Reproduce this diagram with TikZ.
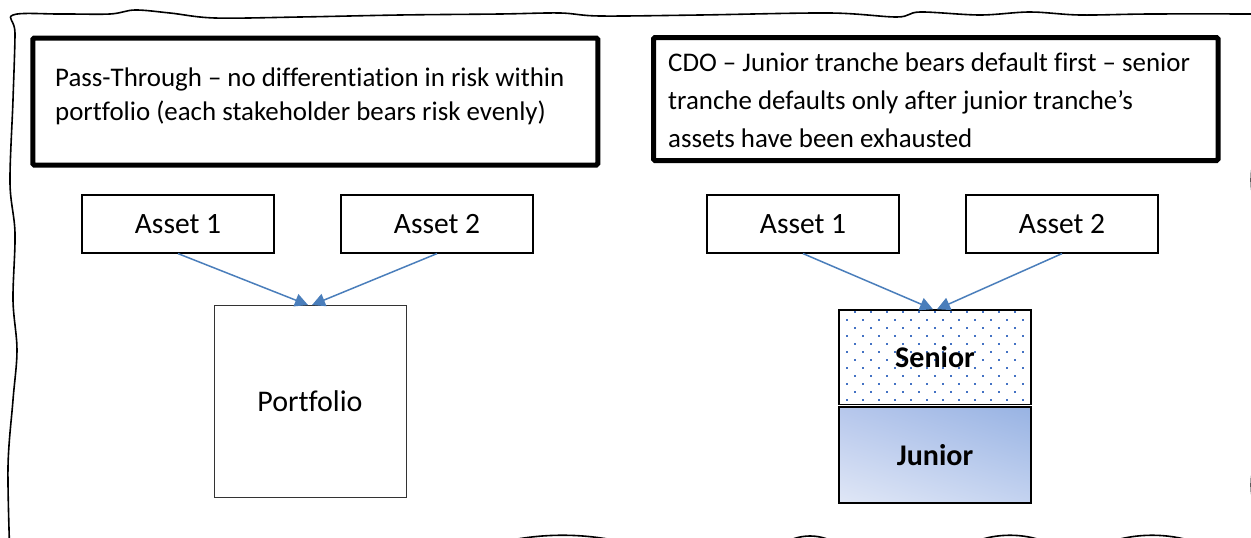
\documentclass[tikz,border=0pt]{standalone}
\usepackage{fontspec}
\setmainfont{Carlito}[Ligatures=NoCommon]
\usetikzlibrary{arrows.meta,shadings}
\definecolor{arrowblue}{RGB}{74,126,187}
\definecolor{dotblue}{RGB}{68,114,196}
\definecolor{jll}{RGB}{224,231,246}
\definecolor{jur}{RGB}{152,179,227}
\definecolor{jul}{RGB}{182,199,236}
\definecolor{jlr}{RGB}{196,211,240}
\begin{document}
\begin{tikzpicture}[x=1pt,y=-1pt,
  titlebox/.style={draw=black, line width=5pt, rounded corners=1.5pt, inner sep=0pt},
  titletext/.style={anchor=base west, inner sep=0pt, font=\fontsize{26.9}{30}\selectfont},
  assetbox/.style={draw=black, line width=1.2pt, minimum width=192pt, minimum height=58pt, inner sep=0pt, font=\fontsize{29.5}{32}\selectfont},
  portbox/.style={draw=black!80, line width=1pt, minimum width=192pt, minimum height=192pt, inner sep=0pt, font=\fontsize{30}{32}\selectfont},
  tranche/.style={draw=black, line width=1.5pt, minimum width=192pt, inner sep=0pt, font=\bfseries\fontsize{30}{32}\selectfont},
  flow/.style={draw=arrowblue, line width=1.5pt, -{Triangle[length=13pt,width=13pt]}},
  frame/.style={draw=black, line width=1.6pt}
]
\useasboundingbox (0,0) rectangle (1251,538);
\begin{scope}
\clip (0,0) rectangle (1251,538);
\path[frame] plot[smooth, tension=0.55] coordinates {
 (1270,14) (1150,14) (1080,15) (1030,12) (980,15) (920,12) (897,17) (830,13) (700,15) (600,16) (560,13) (500,14) (400,15) (300,17) (215,18) (170,13) (135,10) (110,14) (60,14) (13,15)
 (15,33) (13,100) (10,183) (15,233) (13,300) (17,350) (13,400) (8,467) (10,560)}
 -- (450,560) .. controls (520,527) and (605,527) .. (675,560)
 -- (765,560) .. controls (790,528) and (830,528) .. (855,560)
 -- (945,560) .. controls (980,527) and (1040,527) .. (1075,560)
 .. controls (1118,527) and (1186,527) .. (1230,560)
 -- (1270,560) -- (1270,540) .. controls (1245,505) and (1245,465) .. (1270,430)
 -- (1270,240) .. controls (1245,200) and (1245,160) .. (1270,120) -- cycle;
\end{scope}

% title boxes
\node[titlebox, minimum width=565pt, minimum height=127pt] (lt) at (315.25,101.5) {};
\node[titlebox, minimum width=564.5pt, minimum height=123pt] (rt) at (935.75,99) {};
\node[titletext] (tl1) at (55,86) {Pass-Through – no differentiation in risk within};
\node[titletext] (tl2) at (55,120) {portfolio (each stakeholder bears risk evenly)};
\node[titletext] (tr1) at (668,71) {CDO – Junior tranche bears default first – senior};
\node[titletext] (tr2) at (668,109) {tranche defaults only after junior tranche’s};
\node[titletext] (tr3) at (668,147) {assets have been exhausted};

% left diagram
\node[assetbox] (la1) at (178,224) {Asset 1};
\node[assetbox] (la2) at (437,224) {Asset 2};
\node[portbox] (port) at (310,401.5) {Portfolio};

% right diagram
\node[assetbox] (ra1) at (803,224) {Asset 1};
\node[assetbox] (ra2) at (1062,224) {Asset 2};

\begin{scope}
\clip (839,310) rectangle (1031,404.5);
\foreach \r in {0,...,11} {
  \foreach \c in {0,...,11} {
    \fill[dotblue] ({847+16*\c+8*(1-mod(\r,2))-1},{311.5+8*\r-1}) rectangle ++(2,2);
  }
}
\end{scope}
\node[tranche, minimum height=94.5pt] (sen) at (935,357.25) {Senior};
\node[tranche, minimum height=96pt, shade, lower left=jll, upper right=jur, upper left=jul, lower right=jlr] (jun) at (935,455) {Junior};

% connectors
\draw[flow] (la1.south) -- ([xshift=-2pt]port.north);
\draw[flow] (la2.south) -- ([xshift=2pt]port.north);
\draw[flow] (ra1.south) -- ([xshift=-2pt]sen.north);
\draw[flow] (ra2.south) -- ([xshift=2pt]sen.north);
\end{tikzpicture}
\end{document}
